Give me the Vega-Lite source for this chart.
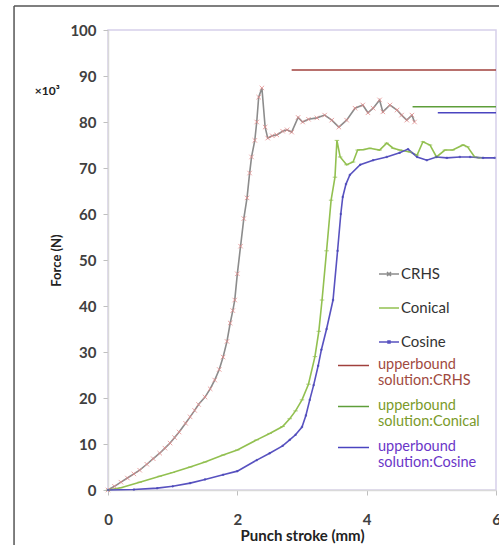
{
  "$schema": "https://vega.github.io/schema/vega-lite/v6.json",
  "width": 388,
  "height": 460,
  "autosize": {"type": "none"},
  "padding": {"left": 108, "top": 30, "right": 3, "bottom": 55},
  "background": "white",
  "config": {"view": {"stroke": "#d6d0ea", "strokeWidth": 1.5}, "font": "Lato"},
  "datasets": {
    "curves": [
      {"s":"CRHS","x":0,"y":0},{"s":"CRHS","x":0.1,"y":0.8},{"s":"CRHS","x":0.2,"y":1.7},{"s":"CRHS","x":0.3,"y":2.6},{"s":"CRHS","x":0.4,"y":3.5},{"s":"CRHS","x":0.49,"y":4.3},{"s":"CRHS","x":0.6,"y":5.6},{"s":"CRHS","x":0.7,"y":6.8},{"s":"CRHS","x":0.8,"y":8.0},{"s":"CRHS","x":0.88,"y":9.1},{"s":"CRHS","x":0.96,"y":10.2},{"s":"CRHS","x":1.03,"y":11.4},{"s":"CRHS","x":1.1,"y":12.6},{"s":"CRHS","x":1.2,"y":14.5},{"s":"CRHS","x":1.27,"y":15.9},{"s":"CRHS","x":1.34,"y":17.3},{"s":"CRHS","x":1.4,"y":18.6},{"s":"CRHS","x":1.5,"y":20.2},{"s":"CRHS","x":1.58,"y":22.0},{"s":"CRHS","x":1.65,"y":23.9},{"s":"CRHS","x":1.72,"y":26.2},{"s":"CRHS","x":1.78,"y":28.9},{"s":"CRHS","x":1.84,"y":32.3},{"s":"CRHS","x":1.89,"y":36.3},{"s":"CRHS","x":1.93,"y":39.0},{"s":"CRHS","x":1.96,"y":41.3},{"s":"CRHS","x":2.0,"y":47},{"s":"CRHS","x":2.05,"y":53},{"s":"CRHS","x":2.1,"y":59},{"s":"CRHS","x":2.15,"y":63.5},{"s":"CRHS","x":2.19,"y":68.9},{"s":"CRHS","x":2.22,"y":72.4},{"s":"CRHS","x":2.27,"y":76},{"s":"CRHS","x":2.3,"y":80},{"s":"CRHS","x":2.33,"y":85.4},{"s":"CRHS","x":2.38,"y":87.4},{"s":"CRHS","x":2.43,"y":78.9},{"s":"CRHS","x":2.47,"y":76.5},{"s":"CRHS","x":2.54,"y":77.0},{"s":"CRHS","x":2.61,"y":77.2},{"s":"CRHS","x":2.7,"y":78.0},{"s":"CRHS","x":2.77,"y":78.3},{"s":"CRHS","x":2.84,"y":77.8},{"s":"CRHS","x":2.94,"y":81},{"s":"CRHS","x":3.01,"y":80},{"s":"CRHS","x":3.1,"y":80.6},{"s":"CRHS","x":3.23,"y":80.9},{"s":"CRHS","x":3.35,"y":81.5},{"s":"CRHS","x":3.46,"y":80.4},{"s":"CRHS","x":3.57,"y":78.9},{"s":"CRHS","x":3.69,"y":80.4},{"s":"CRHS","x":3.82,"y":83},{"s":"CRHS","x":3.94,"y":83.7},{"s":"CRHS","x":4.02,"y":82},{"s":"CRHS","x":4.1,"y":83},{"s":"CRHS","x":4.2,"y":84.8},{"s":"CRHS","x":4.25,"y":82.2},{"s":"CRHS","x":4.36,"y":83.7},{"s":"CRHS","x":4.47,"y":82.6},{"s":"CRHS","x":4.54,"y":81.5},{"s":"CRHS","x":4.62,"y":80.4},{"s":"CRHS","x":4.7,"y":81.5},{"s":"CRHS","x":4.74,"y":80},
      {"s":"Conical","x":0,"y":0},{"s":"Conical","x":0.2,"y":0.5},{"s":"Conical","x":0.49,"y":1.7},{"s":"Conical","x":0.8,"y":3.0},{"s":"Conical","x":1.0,"y":3.8},{"s":"Conical","x":1.27,"y":5.0},{"s":"Conical","x":1.5,"y":6.1},{"s":"Conical","x":1.78,"y":7.6},{"s":"Conical","x":2.0,"y":8.7},{"s":"Conical","x":2.3,"y":10.9},{"s":"Conical","x":2.5,"y":12.3},{"s":"Conical","x":2.7,"y":13.8},{"s":"Conical","x":2.81,"y":15.5},{"s":"Conical","x":2.9,"y":17.2},{"s":"Conical","x":3.0,"y":19.6},{"s":"Conical","x":3.1,"y":23},{"s":"Conical","x":3.2,"y":29},{"s":"Conical","x":3.26,"y":34.5},{"s":"Conical","x":3.31,"y":41.3},{"s":"Conical","x":3.38,"y":52},{"s":"Conical","x":3.45,"y":63},{"s":"Conical","x":3.51,"y":68},{"s":"Conical","x":3.54,"y":76},{"s":"Conical","x":3.59,"y":72.4},{"s":"Conical","x":3.69,"y":70.7},{"s":"Conical","x":3.79,"y":71.3},{"s":"Conical","x":3.86,"y":73.9},{"s":"Conical","x":3.95,"y":74.0},{"s":"Conical","x":4.05,"y":74.3},{"s":"Conical","x":4.2,"y":73.9},{"s":"Conical","x":4.31,"y":75.4},{"s":"Conical","x":4.41,"y":74.3},{"s":"Conical","x":4.51,"y":73.9},{"s":"Conical","x":4.67,"y":73.5},{"s":"Conical","x":4.78,"y":72.8},{"s":"Conical","x":4.87,"y":75.7},{"s":"Conical","x":4.98,"y":75},{"s":"Conical","x":5.08,"y":72.4},{"s":"Conical","x":5.21,"y":73.9},{"s":"Conical","x":5.33,"y":73.9},{"s":"Conical","x":5.49,"y":75},{"s":"Conical","x":5.56,"y":74.6},{"s":"Conical","x":5.67,"y":72.4},{"s":"Conical","x":5.75,"y":72.2},
      {"s":"Cosine","x":0,"y":0},{"s":"Cosine","x":0.4,"y":0.1},{"s":"Cosine","x":0.76,"y":0.4},{"s":"Cosine","x":1.0,"y":0.8},{"s":"Cosine","x":1.27,"y":1.5},{"s":"Cosine","x":1.5,"y":2.3},{"s":"Cosine","x":1.78,"y":3.3},{"s":"Cosine","x":2.0,"y":4.1},{"s":"Cosine","x":2.3,"y":6.5},{"s":"Cosine","x":2.5,"y":8.0},{"s":"Cosine","x":2.7,"y":9.6},{"s":"Cosine","x":2.81,"y":10.9},{"s":"Cosine","x":2.9,"y":12.0},{"s":"Cosine","x":3.0,"y":13.7},{"s":"Cosine","x":3.06,"y":16.2},{"s":"Cosine","x":3.12,"y":19.6},{"s":"Cosine","x":3.18,"y":22.8},{"s":"Cosine","x":3.25,"y":27},{"s":"Cosine","x":3.3,"y":30.5},{"s":"Cosine","x":3.38,"y":35},{"s":"Cosine","x":3.48,"y":41.3},{"s":"Cosine","x":3.55,"y":52},{"s":"Cosine","x":3.6,"y":60},{"s":"Cosine","x":3.63,"y":63.7},{"s":"Cosine","x":3.68,"y":66.5},{"s":"Cosine","x":3.74,"y":68.5},{"s":"Cosine","x":3.9,"y":70.7},{"s":"Cosine","x":4.1,"y":71.7},{"s":"Cosine","x":4.31,"y":72.4},{"s":"Cosine","x":4.51,"y":73.3},{"s":"Cosine","x":4.64,"y":74.1},{"s":"Cosine","x":4.78,"y":72.4},{"s":"Cosine","x":4.93,"y":71.7},{"s":"Cosine","x":5.08,"y":72.4},{"s":"Cosine","x":5.24,"y":72.2},{"s":"Cosine","x":5.44,"y":72.4},{"s":"Cosine","x":5.6,"y":72.4},{"s":"Cosine","x":5.8,"y":72.2},{"s":"Cosine","x":5.98,"y":72.2}
    ],
    "ub": [
      {"u":"CRHS","x":2.84,"y":91.3},{"u":"CRHS","x":6,"y":91.3},
      {"u":"Conical","x":4.71,"y":83.3},{"u":"Conical","x":6,"y":83.3},
      {"u":"Cosine","x":5.1,"y":82.0},{"u":"Cosine","x":6,"y":82.0}
    ]
  },
  "layer": [
    {
      "data": {"name": "curves"},
      "mark": {"type": "line", "strokeWidth": 1.6},
      "encoding": {
        "x": {"field": "x", "type": "quantitative", "title": "Punch stroke (mm)",
          "scale": {"domain": [0, 6], "nice": false},
          "axis": {"values": [0, 2, 4, 6], "format": "d", "tickSize": 5, "tickColor": "#bfbfbf", "domainColor": "#d9d9d9", "domainWidth": 1.5, "grid": false, "labelFont": "Lato", "labelFontWeight": "bold", "labelFontSize": 15, "labelColor": "#404040", "labelPadding": 17, "labelFlush": false, "titleFont": "Lato", "titleFontSize": 15, "titleFontWeight": "bold", "titleColor": "#222222", "titlePadding": 1}},
        "y": {"field": "y", "type": "quantitative", "title": "Force (N)",
          "scale": {"domain": [0, 100], "nice": false},
          "axis": {"values": [0, 10, 20, 30, 40, 50, 60, 70, 80, 90, 100], "format": "d", "tickSize": 5, "tickColor": "#bfbfbf", "domainColor": "#d9d9d9", "domainWidth": 1.5, "grid": false, "labelFont": "Lato", "labelFontWeight": "bold", "labelFontSize": 15, "labelColor": "#404040", "labelPadding": 7, "titleFont": "Lato", "titleFontSize": 13, "titleFontWeight": "bold", "titleColor": "#222222", "titlePadding": 6}},
        "color": {"field": "s", "type": "nominal",
          "scale": {"domain": ["CRHS", "Conical", "Cosine"], "range": ["#8c8c8c", "#92c050", "#5852c0"]},
          "legend": {"orient": "none", "legendX": 270, "legendY": 233, "title": null, "padding": 0,
            "symbolSize": 400, "symbolStrokeWidth": 1.5, "labelFont": "Lato", "labelFontSize": 15, "labelColor": "#333333", "labelOffset": 1, "rowPadding": 15,
            "encode": {"symbols": {"update": {
              "shape": {"signal": "datum.value === 'CRHS' ? 'M-1,0H1M-0.2,-0.2L0.2,0.2M-0.2,0.2L0.2,-0.2' : datum.value === 'Cosine' ? 'M-1,0H1M-0.1,-0.1H0.1V0.1H-0.1Z' : 'M-1,0H1'"},
              "fill": {"value": "transparent"},
              "stroke": {"signal": "datum.value === 'CRHS' ? '#999999' : datum.value === 'Cosine' ? '#9c90d8' : '#92c050'"}
            }}}}}
      }
    },
    {
      "data": {"name": "curves"},
      "mark": {"type": "point", "filled": false, "size": 20, "strokeWidth": 0.9, "opacity": 0.85},
      "encoding": {
        "x": {"field": "x", "type": "quantitative", "title": "Punch stroke (mm)"},
        "y": {"field": "y", "type": "quantitative", "title": "Force (N)"},
        "stroke": {"field": "s", "type": "nominal",
          "scale": {"domain": ["CRHS", "Conical", "Cosine"], "range": ["#e58a8a", "#92c050", "#4a48b8"]}, "legend": null},
        "shape": {"field": "s", "type": "nominal",
          "scale": {"domain": ["CRHS", "Conical", "Cosine"], "range": ["M-1,-1L1,1M-1,1L1,-1", "M-1,0H1", "M-0.3,-0.3H0.3V0.3H-0.3Z"]}, "legend": null}
      }
    },
    {
      "data": {"name": "ub"},
      "mark": {"type": "line", "strokeWidth": 1.5},
      "encoding": {
        "x": {"field": "x", "type": "quantitative", "title": "Punch stroke (mm)"},
        "y": {"field": "y", "type": "quantitative", "title": "Force (N)"},
        "color": {"field": "u", "type": "nominal",
          "scale": {"domain": ["CRHS", "Conical", "Cosine"], "range": ["#a0403c", "#5e9e3a", "#4a44c0"]},
          "legend": {"orient": "none", "legendX": 229, "legendY": 319, "title": null, "padding": 0,
            "symbolType": "M-1,0H1", "symbolSize": 961, "symbolStrokeWidth": 1.5, "labelFont": "Lato", "labelFontSize": 14.5, "labelOffset": 8, "rowPadding": 2, "labelLimit": 300, "labelBaseline": "top",
            "labelExpr": "['upperbound', 'solution:' + datum.label]",
            "encode": {"labels": {"update": {
              "fill": {"signal": "datum.value === 'CRHS' ? '#a04a40' : datum.value === 'Conical' ? '#7a9a2a' : '#6a36c8'"},
              "dy": {"value": -8}
            }}}}}
      }
    },
    {
      "data": {"values": [{}]},
      "mark": {"type": "rule", "stroke": "#555555", "strokeWidth": 1.5},
      "encoding": {
        "x": {"datum": -1.453, "type": "quantitative", "title": "Punch stroke (mm)"},
        "y": {"datum": 105.2, "type": "quantitative", "title": "Force (N)"},
        "y2": {"datum": -20}
      }
    },
    {
      "data": {"values": [{}]},
      "mark": {"type": "rule", "stroke": "#555555", "strokeWidth": 1.5},
      "encoding": {
        "x": {"datum": -1.453, "type": "quantitative", "title": "Punch stroke (mm)"},
        "x2": {"datum": 7},
        "y": {"datum": 105.2, "type": "quantitative", "title": "Force (N)"}
      }
    },
    {
      "data": {"values": [{}]},
      "mark": {"type": "text", "font": "Lato", "fontWeight": "bold", "fontSize": 12, "color": "#222222"},
      "encoding": {
        "x": {"datum": -0.94, "type": "quantitative", "title": "Punch stroke (mm)"},
        "y": {"datum": 86.7, "type": "quantitative", "title": "Force (N)"},
        "text": {"value": "×10³"}
      }
    }
  ],
  "resolve": {"scale": {"color": "independent"}, "legend": {"color": "independent"}}
}
